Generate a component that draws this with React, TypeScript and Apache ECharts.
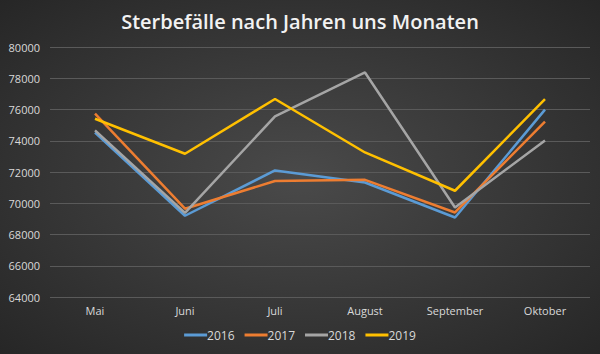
import React, { useEffect, useRef } from "react";
import * as echarts from "echarts";

const months = ["Mai", "Juni", "Juli", "August", "September", "Oktober"];
const s2016 = [74530, 69200, 72100, 71330, 69090, 75990];
const s2017 = [75730, 69650, 71420, 71500, 69410, 75220];
const s2018 = [74660, 69380, 75560, 78370, 69730, 74020];
const s2019 = [75410, 73170, 76670, 73250, 70800, 76670];
const yearNames = ["2016", "2017", "2018", "2019"];
const colors = ["#5B9BD5", "#ED7D31", "#A5A5A5", "#FFC000"];

export default function App() {
  const ref = useRef<HTMLDivElement>(null);
  useEffect(() => {
    document.body.style.margin = "0";
    const chart = echarts.init(ref.current!, null, { renderer: "svg" });
    const data = [s2016, s2017, s2018, s2019];
    chart.setOption({
      animation: false,
      backgroundColor: {
        type: "radial",
        x: 0.5,
        y: 0.5,
        r: 0.75,
        colorStops: [
          { offset: 0, color: "#4a4a4a" },
          { offset: 1, color: "#242424" },
        ],
      },
      title: {
        text: "Sterbefälle nach Jahren uns Monaten",
        left: "center",
        top: 6,
        textStyle: {
          color: "#f2f2f2",
          fontFamily: "Open Sans",
          fontWeight: 600,
          fontSize: 20,
        },
      },
      legend: {
        bottom: 8,
        left: "center",
        itemWidth: 23,
        itemHeight: 3,
        itemGap: 10,
        icon: "rect",
        textStyle: {
          color: "#d9d9d9",
          fontSize: 12,
          fontFamily: "Open Sans",
          padding: [0, 0, 0, -5],
        },
        data: yearNames,
      },
      grid: { left: 50, right: 10, top: 47, bottom: 57 },
      xAxis: {
        type: "category",
        data: months,
        boundaryGap: true,
        axisLine: { show: false },
        axisTick: { show: false },
        axisLabel: { color: "#d9d9d9", fontSize: 11, fontFamily: "Open Sans", margin: 8 },
      },
      yAxis: {
        type: "value",
        min: 64000,
        max: 80000,
        interval: 2000,
        axisLine: { show: false },
        axisTick: { show: false },
        axisLabel: {
          color: "#d9d9d9",
          fontSize: 11,
          fontFamily: "Open Sans",
          margin: 10,
          formatter: (v: number) => String(v),
        },
        splitLine: { lineStyle: { color: "#5a5a5a", width: 1 } },
      },
      series: yearNames.map((n, i) => ({
        name: n,
        type: "line",
        data: data[i],
        symbol: "none",
        lineStyle: { color: colors[i], width: 2.5 },
        itemStyle: { color: colors[i] },
      })),
    });
    return () => chart.dispose();
  }, []);
  return <div ref={ref} style={{ width: 600, height: 354 }} />;
}
